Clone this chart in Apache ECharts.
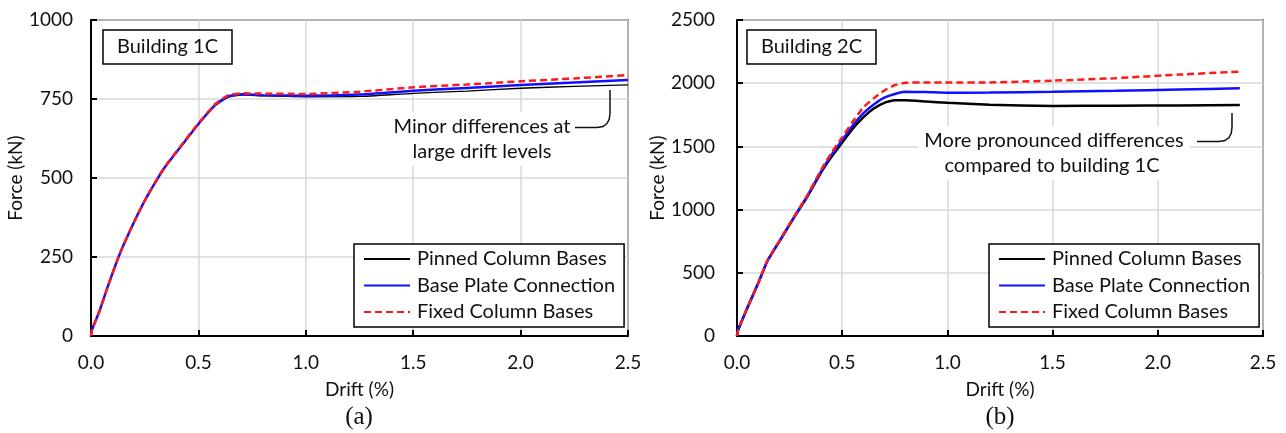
<!DOCTYPE html>
<html>
<head>
<meta charset="utf-8">
<script src="https://cdn.jsdelivr.net/npm/echarts@6/dist/echarts.min.js"></script>
<style>
html,body{margin:0;padding:0;background:#fff;}
#c{width:1286px;height:433px;}
</style>
</head>
<body>
<div id="c"></div>
<script>
// ---- Data: Building 1C ----
const driftA = [0, 0.005, 0.04, 0.08, 0.135, 0.2, 0.26, 0.34, 0.42, 0.5, 0.58, 0.64, 0.7, 0.8, 1.0, 1.25, 1.5, 1.75, 2.0, 2.25, 2.5];
const pinnedA = [0, 20, 80, 160, 262, 360, 440, 530, 600, 670, 730, 756, 762, 760, 757, 758, 768, 775, 784, 790, 795];
const basePlateA = [0, 20, 80, 160, 262, 360, 440, 530, 601, 671, 732, 759, 765, 762, 760, 764, 776, 785, 794, 802, 810];
const fixedA = [0, 20, 80, 160, 262, 360, 441, 532, 603, 673, 735, 762, 768, 767, 766, 773, 787, 796, 806, 815, 826];

// ---- Data: Building 2C ----
const driftB = [0, 0.005, 0.05, 0.1, 0.145, 0.2, 0.27, 0.33, 0.4, 0.45, 0.5, 0.55, 0.6, 0.65, 0.7, 0.75, 0.8, 0.9, 1.0, 1.2, 1.5, 1.8, 2.1, 2.39];
const pinnedB = [0, 45, 225, 415, 595, 745, 935, 1090, 1295, 1420, 1530, 1640, 1730, 1800, 1845, 1865, 1865, 1855, 1845, 1830, 1820, 1822, 1824, 1827];
const basePlateB = [0, 45, 225, 415, 595, 745, 937, 1094, 1303, 1435, 1550, 1665, 1762, 1832, 1885, 1915, 1932, 1930, 1925, 1926, 1932, 1940, 1950, 1960];
const fixedB = [0, 45, 227, 417, 597, 748, 942, 1100, 1315, 1452, 1572, 1695, 1808, 1880, 1942, 1985, 2003, 2006, 2005, 2006, 2020, 2040, 2068, 2092];

// ---- Axis ticks ----
const xTickLabels = ['0.0', '0.5', '1.0', '1.5', '2.0', '2.5'];
const yTicksA = [0, 250, 500, 750, 1000];
const yTicksB = [0, 500, 1000, 1500, 2000, 2500];
const seriesNames = ['Pinned Column Bases', 'Base Plate Connection', 'Fixed Column Bases'];
const panelLabels = ['Building 1C', 'Building 2C'];
const captions = ['(a)', '(b)'];
const noteA = ['Minor differences at', 'large drift levels'];
const noteB = ['More pronounced differences', 'compared to building 1C'];

const FONT = 'Lato';
const zip = (xs, ys) => xs.map((x, i) => [x, ys[i]]);

const chart = echarts.init(document.getElementById('c'), null, {renderer: 'canvas'});

function xAxisCfg(gi) {
  return {
    type: 'value', gridIndex: gi, min: 0, max: 2.5, interval: 0.5,
    name: 'Drift (%)', nameLocation: 'middle', nameGap: 44,
    nameTextStyle: {fontFamily: FONT, fontSize: 19, color: '#111'},
    axisLine: {show: true, onZero: false, lineStyle: {color: '#000', width: 2}},
    axisTick: {show: true, inside: true, length: 6, lineStyle: {color: '#000', width: 2}},
    axisLabel: {fontFamily: FONT, fontSize: 19, color: '#111', margin: 17,
      formatter: v => xTickLabels[Math.round(v / 0.5)]},
    splitLine: {show: true, lineStyle: {color: '#d9d9d9', width: 1.5}}
  };
}
function yAxisCfg(gi, ticks, margin, gap) {
  const iv = ticks[1] - ticks[0];
  return {
    type: 'value', gridIndex: gi, min: ticks[0], max: ticks[ticks.length - 1], interval: iv,
    name: 'Force (kN)', nameLocation: 'middle', nameGap: gap,
    nameTextStyle: {fontFamily: FONT, fontSize: 19, color: '#111'},
    axisLine: {show: true, onZero: false, lineStyle: {color: '#000', width: 2}},
    axisTick: {show: true, inside: true, length: 6, lineStyle: {color: '#000', width: 2}},
    axisLabel: {fontFamily: FONT, fontSize: 19, color: '#111', margin: margin,
      formatter: v => String(v)},
    splitLine: {show: true, lineStyle: {color: '#d9d9d9', width: 1.5}}
  };
}
function lineSeries(name, gi, data, color, width, dashed, z) {
  return {
    type: 'line', name: name, xAxisIndex: gi, yAxisIndex: gi, data: data,
    symbol: 'none', showSymbol: false, smooth: 0.15, z: z,
    lineStyle: {color: color, width: width, type: dashed ? [7, 4] : 'solid'},
    itemStyle: {color: color},
    emphasis: {disabled: true}
  };
}
function legendCfg(left) {
  return {
    left: left, top: 244, orient: 'vertical', align: 'left',
    data: seriesNames,
    backgroundColor: '#fff', borderColor: '#000', borderWidth: 1.5, borderRadius: 0,
    padding: [5, 9, 5, 9], itemGap: 6.5, itemWidth: 46, itemHeight: 14,
    itemStyle: {color: 'transparent', borderColor: 'transparent', borderWidth: 0},
    textStyle: {fontFamily: FONT, fontSize: 20, color: '#111', padding: [0, 0, 0, 2]},
    selectedMode: false
  };
}

const option = {
  backgroundColor: '#fff',
  animation: false,
  grid: [
    {left: 91, top: 20, width: 537, height: 316, show: true, borderColor: '#000', borderWidth: 1.5, backgroundColor: 'transparent'},
    {left: 737, top: 20, width: 526, height: 316, show: true, borderColor: '#000', borderWidth: 1.5, backgroundColor: 'transparent'}
  ],
  xAxis: [xAxisCfg(0), xAxisCfg(1)],
  yAxis: [yAxisCfg(0, yTicksA, 18, 63), yAxisCfg(1, yTicksB, 22, 63)],
  legend: [legendCfg(354), legendCfg(989)],
  series: [
    lineSeries(seriesNames[0], 0, zip(driftA, pinnedA), '#000', 1.3, false, 3),
    lineSeries(seriesNames[1], 0, zip(driftA, basePlateA), '#1010ff', 2.5, false, 4),
    lineSeries(seriesNames[2], 0, zip(driftA, fixedA), '#ff1a1a', 2.5, true, 5),
    lineSeries(seriesNames[0], 1, zip(driftB, pinnedB), '#000', 2.5, false, 3),
    lineSeries(seriesNames[1], 1, zip(driftB, basePlateB), '#1010ff', 2.5, false, 4),
    lineSeries(seriesNames[2], 1, zip(driftB, fixedB), '#ff1a1a', 2.5, true, 5)
  ]
};
chart.setOption(option);

const txt = (x, y, s, size, fam) => ({
  type: 'text', x: x, y: y, z: 50,
  style: {text: s, fontFamily: fam || FONT, fontSize: size, fill: '#111', align: 'center', verticalAlign: 'middle'}
});
const box = (x, y, w, h, stroke) => ({
  type: 'rect', z: 40, shape: {x: x, y: y, width: w, height: h},
  style: {fill: '#fff', stroke: stroke ? '#000' : null, lineWidth: 1.5}
});
const leader = (pts) => ({
  type: 'polyline', z: 50, shape: {points: pts},
  style: {fill: null, stroke: '#111', lineWidth: 1.5}
});
chart.setOption({
  graphic: [
    box(103, 30, 129, 34, true), txt(167.5, 47, panelLabels[0], 20),
    box(747, 30, 129, 34, true), txt(811.5, 47, panelLabels[1], 20),
    box(388, 112, 190, 54, false),
    txt(482, 127, noteA[0], 20), txt(482, 152, noteA[1], 20),
    leader([[575, 127.5], [597, 127.5], [603, 126.5], [607, 123.5], [609.3, 119], [610, 113], [610, 90]]),
    box(918, 126, 272, 54, false),
    txt(1054, 141, noteB[0], 20), txt(1052, 166, noteB[1], 20),
    leader([[1197, 141.5], [1219, 141.5], [1225, 140.5], [1229, 137.5], [1231.3, 133], [1232, 127], [1232, 113]]),
    txt(359, 417, captions[0], 25, 'Liberation Serif'),
    txt(1000, 417, captions[1], 25, 'Liberation Serif')
  ]
});
</script>
</body>
</html>
